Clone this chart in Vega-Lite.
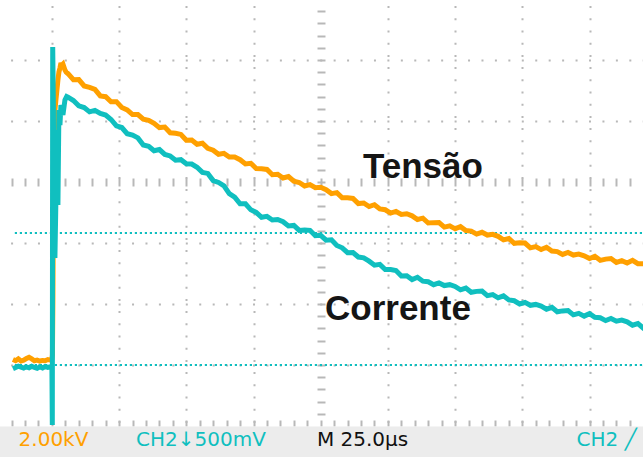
{
  "$schema": "https://vega.github.io/schema/vega-lite/v6.json",
  "width": 643,
  "height": 457,
  "autosize": "none",
  "padding": 0,
  "background": "white",
  "config": {"view": {"stroke": null}},
  "datasets": {
    "tracos": [
      {"canal":"CH1","t":-14.5,"v":-2.91},{"canal":"CH1","t":-13.5,"v":-2.93},{"canal":"CH1","t":-12.5,"v":-2.9},{"canal":"CH1","t":-11.5,"v":-2.935},{"canal":"CH1","t":-10.5,"v":-2.92},{"canal":"CH1","t":-9.5,"v":-2.895},{"canal":"CH1","t":-8.5,"v":-2.875},{"canal":"CH1","t":-7.5,"v":-2.9},{"canal":"CH1","t":-6.5,"v":-2.93},{"canal":"CH1","t":-5.5,"v":-2.92},{"canal":"CH1","t":-4.5,"v":-2.935},{"canal":"CH1","t":-3.5,"v":-2.925},{"canal":"CH1","t":-2.5,"v":-2.93},{"canal":"CH1","t":-1.5,"v":-2.91},{"canal":"CH1","t":-0.5,"v":-2.92},
      {"canal":"CH1","t":0.0,"v":-2.9},{"canal":"CH1","t":0.19,"v":-2.836},{"canal":"CH1","t":0.37,"v":-1.934},{"canal":"CH1","t":0.56,"v":-0.295},{"canal":"CH1","t":0.75,"v":0.525},{"canal":"CH1","t":1.12,"v":1.18},{"canal":"CH1","t":1.49,"v":1.344},{"canal":"CH1","t":1.87,"v":1.508},{"canal":"CH1","t":2.24,"v":1.672},{"canal":"CH1","t":2.61,"v":1.803},{"canal":"CH1","t":2.99,"v":1.869},{"canal":"CH1","t":3.36,"v":1.95},{"canal":"CH1","t":3.73,"v":1.918},{"canal":"CH1","t":4.1,"v":1.934},{"canal":"CH1","t":4.85,"v":1.836},{"canal":"CH1","t":5.3,"v":1.8},
      {"canal":"CH1","t":6,"v":1.776},{"canal":"CH1","t":8,"v":1.678},{"canal":"CH1","t":10,"v":1.679},{"canal":"CH1","t":12,"v":1.575},{"canal":"CH1","t":14,"v":1.551},{"canal":"CH1","t":16,"v":1.519},{"canal":"CH1","t":18,"v":1.411},{"canal":"CH1","t":20,"v":1.398},{"canal":"CH1","t":22,"v":1.315},{"canal":"CH1","t":24,"v":1.317},{"canal":"CH1","t":26,"v":1.221},{"canal":"CH1","t":28,"v":1.183},{"canal":"CH1","t":30,"v":1.105},{"canal":"CH1","t":32,"v":1.106},{"canal":"CH1","t":34,"v":1.03},{"canal":"CH1","t":36,"v":1.012},{"canal":"CH1","t":38,"v":0.962},{"canal":"CH1","t":40,"v":0.892},{"canal":"CH1","t":42,"v":0.9},{"canal":"CH1","t":44,"v":0.807},{"canal":"CH1","t":46,"v":0.798},{"canal":"CH1","t":48,"v":0.78},{"canal":"CH1","t":50,"v":0.686},{"canal":"CH1","t":52,"v":0.687},{"canal":"CH1","t":54,"v":0.618},{"canal":"CH1","t":56,"v":0.635},{"canal":"CH1","t":58,"v":0.551},{"canal":"CH1","t":60,"v":0.522},{"canal":"CH1","t":62,"v":0.454},{"canal":"CH1","t":64,"v":0.47},{"canal":"CH1","t":66,"v":0.41},{"canal":"CH1","t":68,"v":0.411},{"canal":"CH1","t":70,"v":0.366},{"canal":"CH1","t":72,"v":0.296},{"canal":"CH1","t":74,"v":0.307},{"canal":"CH1","t":76,"v":0.22},{"canal":"CH1","t":78,"v":0.218},{"canal":"CH1","t":80,"v":0.206},{"canal":"CH1","t":82,"v":0.119},{"canal":"CH1","t":84,"v":0.127},{"canal":"CH1","t":86,"v":0.065},{"canal":"CH1","t":88,"v":0.089},{"canal":"CH1","t":90,"v":0.013},{"canal":"CH1","t":92,"v":-0.008},{"canal":"CH1","t":94,"v":-0.065},{"canal":"CH1","t":96,"v":-0.042},{"canal":"CH1","t":98,"v":-0.093},{"canal":"CH1","t":100,"v":-0.085},{"canal":"CH1","t":102,"v":-0.125},{"canal":"CH1","t":104,"v":-0.19},{"canal":"CH1","t":106,"v":-0.174},{"canal":"CH1","t":108,"v":-0.259},{"canal":"CH1","t":110,"v":-0.259},{"canal":"CH1","t":112,"v":-0.269},{"canal":"CH1","t":114,"v":-0.354},{"canal":"CH1","t":116,"v":-0.344},{"canal":"CH1","t":118,"v":-0.403},{"canal":"CH1","t":120,"v":-0.372},{"canal":"CH1","t":122,"v":-0.441},{"canal":"CH1","t":124,"v":-0.455},{"canal":"CH1","t":126,"v":-0.509},{"canal":"CH1","t":128,"v":-0.483},{"canal":"CH1","t":130,"v":-0.532},{"canal":"CH1","t":132,"v":-0.521},{"canal":"CH1","t":134,"v":-0.555},{"canal":"CH1","t":136,"v":-0.614},{"canal":"CH1","t":138,"v":-0.593},{"canal":"CH1","t":140,"v":-0.672},{"canal":"CH1","t":142,"v":-0.666},{"canal":"CH1","t":144,"v":-0.665},{"canal":"CH1","t":146,"v":-0.739},{"canal":"CH1","t":148,"v":-0.718},{"canal":"CH1","t":150,"v":-0.768},{"canal":"CH1","t":152,"v":-0.732},{"canal":"CH1","t":154,"v":-0.796},{"canal":"CH1","t":156,"v":-0.805},{"canal":"CH1","t":158,"v":-0.854},{"canal":"CH1","t":160,"v":-0.824},{"canal":"CH1","t":162,"v":-0.87},{"canal":"CH1","t":164,"v":-0.858},{"canal":"CH1","t":166,"v":-0.891},{"canal":"CH1","t":168,"v":-0.949},{"canal":"CH1","t":170,"v":-0.927},{"canal":"CH1","t":172,"v":-1.005},{"canal":"CH1","t":174,"v":-0.998},{"canal":"CH1","t":176,"v":-1.001},{"canal":"CH1","t":178,"v":-1.079},{"canal":"CH1","t":180,"v":-1.06},{"canal":"CH1","t":182,"v":-1.108},{"canal":"CH1","t":184,"v":-1.07},{"canal":"CH1","t":186,"v":-1.133},{"canal":"CH1","t":188,"v":-1.141},{"canal":"CH1","t":190,"v":-1.188},{"canal":"CH1","t":192,"v":-1.156},{"canal":"CH1","t":194,"v":-1.198},{"canal":"CH1","t":196,"v":-1.181},{"canal":"CH1","t":198,"v":-1.209},{"canal":"CH1","t":200,"v":-1.254},{"canal":"CH1","t":202,"v":-1.219},{"canal":"CH1","t":204,"v":-1.284},{"canal":"CH1","t":206,"v":-1.264},{"canal":"CH1","t":208,"v":-1.254},{"canal":"CH1","t":210,"v":-1.319},{"canal":"CH1","t":212,"v":-1.289},{"canal":"CH1","t":214,"v":-1.329},{"canal":"CH1","t":216,"v":-1.285},{"canal":"CH1","t":218,"v":-1.34},{"canal":"CH1","t":220,"v":-1.34},{"canal":"CH1","t":221,"v":-1.35},
      {"canal":"CH2","t":-14.5,"v":-3.06},{"canal":"CH2","t":-13.5,"v":-3.04},{"canal":"CH2","t":-12.5,"v":-3.02},{"canal":"CH2","t":-11.5,"v":-3.035},{"canal":"CH2","t":-10.5,"v":-3.05},{"canal":"CH2","t":-9.5,"v":-3.03},{"canal":"CH2","t":-8.5,"v":-3.045},{"canal":"CH2","t":-7.5,"v":-3.02},{"canal":"CH2","t":-6.5,"v":-3.04},{"canal":"CH2","t":-5.5,"v":-3.055},{"canal":"CH2","t":-4.5,"v":-3.03},{"canal":"CH2","t":-3.5,"v":-3.05},{"canal":"CH2","t":-2.5,"v":-3.025},{"canal":"CH2","t":-1.5,"v":-3.04},{"canal":"CH2","t":-0.5,"v":-3.03},
      {"canal":"CH2","t":0.0,"v":-3.03},{"canal":"CH2","t":0.15,"v":-3.984},{"canal":"CH2","t":0.3,"v":2.213},{"canal":"CH2","t":0.56,"v":1.18},{"canal":"CH2","t":0.75,"v":-0.951},{"canal":"CH2","t":1.12,"v":-1.246},{"canal":"CH2","t":1.49,"v":-0.295},{"canal":"CH2","t":1.87,"v":0.852},{"canal":"CH2","t":2.24,"v":-0.377},{"canal":"CH2","t":2.61,"v":1.18},{"canal":"CH2","t":2.99,"v":0.934},{"canal":"CH2","t":3.36,"v":1.262},{"canal":"CH2","t":4.1,"v":1.098},{"canal":"CH2","t":4.85,"v":1.344},{"canal":"CH2","t":5.5,"v":1.4},
      {"canal":"CH2","t":6,"v":1.39},{"canal":"CH2","t":8,"v":1.335},{"canal":"CH2","t":10,"v":1.25},{"canal":"CH2","t":12,"v":1.22},{"canal":"CH2","t":14,"v":1.15},{"canal":"CH2","t":16,"v":1.175},{"canal":"CH2","t":18,"v":1.123},{"canal":"CH2","t":20,"v":1.097},{"canal":"CH2","t":22,"v":1.025},{"canal":"CH2","t":24,"v":0.92},{"canal":"CH2","t":26,"v":0.893},{"canal":"CH2","t":28,"v":0.791},{"canal":"CH2","t":30,"v":0.769},{"canal":"CH2","t":32,"v":0.723},{"canal":"CH2","t":34,"v":0.606},{"canal":"CH2","t":36,"v":0.585},{"canal":"CH2","t":38,"v":0.512},{"canal":"CH2","t":40,"v":0.532},{"canal":"CH2","t":42,"v":0.452},{"canal":"CH2","t":44,"v":0.427},{"canal":"CH2","t":46,"v":0.357},{"canal":"CH2","t":48,"v":0.366},{"canal":"CH2","t":50,"v":0.3},{"canal":"CH2","t":52,"v":0.294},{"canal":"CH2","t":54,"v":0.242},{"canal":"CH2","t":56,"v":0.158},{"canal":"CH2","t":58,"v":0.141},{"canal":"CH2","t":60,"v":0.024},{"canal":"CH2","t":62,"v":-0.008},{"canal":"CH2","t":64,"v":-0.062},{"canal":"CH2","t":66,"v":-0.191},{"canal":"CH2","t":68,"v":-0.249},{"canal":"CH2","t":70,"v":-0.357},{"canal":"CH2","t":72,"v":-0.358},{"canal":"CH2","t":74,"v":-0.456},{"canal":"CH2","t":76,"v":-0.499},{"canal":"CH2","t":78,"v":-0.578},{"canal":"CH2","t":80,"v":-0.563},{"canal":"CH2","t":82,"v":-0.623},{"canal":"CH2","t":84,"v":-0.615},{"canal":"CH2","t":86,"v":-0.652},{"canal":"CH2","t":88,"v":-0.72},{"canal":"CH2","t":90,"v":-0.712},{"canal":"CH2","t":92,"v":-0.794},{"canal":"CH2","t":94,"v":-0.786},{"canal":"CH2","t":96,"v":-0.792},{"canal":"CH2","t":98,"v":-0.881},{"canal":"CH2","t":100,"v":-0.875},{"canal":"CH2","t":102,"v":-0.954},{"canal":"CH2","t":104,"v":-0.947},{"canal":"CH2","t":106,"v":-1.041},{"canal":"CH2","t":108,"v":-1.079},{"canal":"CH2","t":110,"v":-1.158},{"canal":"CH2","t":112,"v":-1.156},{"canal":"CH2","t":114,"v":-1.23},{"canal":"CH2","t":116,"v":-1.244},{"canal":"CH2","t":118,"v":-1.298},{"canal":"CH2","t":120,"v":-1.364},{"canal":"CH2","t":122,"v":-1.35},{"canal":"CH2","t":124,"v":-1.435},{"canal":"CH2","t":126,"v":-1.436},{"canal":"CH2","t":128,"v":-1.451},{"canal":"CH2","t":130,"v":-1.541},{"canal":"CH2","t":132,"v":-1.536},{"canal":"CH2","t":134,"v":-1.599},{"canal":"CH2","t":136,"v":-1.562},{"canal":"CH2","t":138,"v":-1.626},{"canal":"CH2","t":140,"v":-1.635},{"canal":"CH2","t":142,"v":-1.684},{"canal":"CH2","t":144,"v":-1.654},{"canal":"CH2","t":146,"v":-1.698},{"canal":"CH2","t":148,"v":-1.683},{"canal":"CH2","t":150,"v":-1.712},{"canal":"CH2","t":152,"v":-1.767},{"canal":"CH2","t":154,"v":-1.738},{"canal":"CH2","t":156,"v":-1.808},{"canal":"CH2","t":158,"v":-1.793},{"canal":"CH2","t":160,"v":-1.789},{"canal":"CH2","t":162,"v":-1.863},{"canal":"CH2","t":164,"v":-1.846},{"canal":"CH2","t":166,"v":-1.899},{"canal":"CH2","t":168,"v":-1.866},{"canal":"CH2","t":170,"v":-1.934},{"canal":"CH2","t":172,"v":-1.947},{"canal":"CH2","t":174,"v":-2.0},{"canal":"CH2","t":176,"v":-1.973},{"canal":"CH2","t":178,"v":-2.021},{"canal":"CH2","t":180,"v":-2.007},{"canal":"CH2","t":182,"v":-2.034},{"canal":"CH2","t":184,"v":-2.085},{"canal":"CH2","t":186,"v":-2.056},{"canal":"CH2","t":188,"v":-2.128},{"canal":"CH2","t":190,"v":-2.113},{"canal":"CH2","t":192,"v":-2.108},{"canal":"CH2","t":194,"v":-2.178},{"canal":"CH2","t":196,"v":-2.154},{"canal":"CH2","t":198,"v":-2.199},{"canal":"CH2","t":200,"v":-2.158},{"canal":"CH2","t":202,"v":-2.219},{"canal":"CH2","t":204,"v":-2.226},{"canal":"CH2","t":206,"v":-2.272},{"canal":"CH2","t":208,"v":-2.238},{"canal":"CH2","t":210,"v":-2.281},{"canal":"CH2","t":212,"v":-2.265},{"canal":"CH2","t":214,"v":-2.293},{"canal":"CH2","t":216,"v":-2.347},{"canal":"CH2","t":218,"v":-2.321},{"canal":"CH2","t":220,"v":-2.395},{"canal":"CH2","t":221,"v":-2.38}
    ],
    "cursores": [
      {"cursor":"superior","v":-0.836},
      {"cursor":"inferior","v":-3.0}
    ],
    "rotulos": [
      {"rotulo":"Tensão","t":115.7,"v":0.066},
      {"rotulo":"Corrente","t":101.6,"v":-2.262}
    ],
    "status": [
      {"canal":"CH1","texto":"2.00kV","t":-12.4,"v":-4.33},
      {"canal":"CH2","texto":"CH2↓500mV","t":31.3,"v":-4.33},
      {"canal":"M","texto":"M 25.0µs","t":98.6,"v":-4.33},
      {"canal":"CH2","texto":"CH2  ╱","t":195.2,"v":-4.33}
    ],
    "faixa": [
      {"t0":-20,"t1":221,"v0":-4.01,"v1":-4.6}
    ]
  },
  "resolve": {"axis": {"x": "independent", "y": "independent"}},
  "layer": [
    {
      "data": {"name": "faixa"},
      "mark": {"type": "rect", "color": "#ececec", "clip": true},
      "encoding": {
        "x": {"field": "t0", "type": "quantitative",
              "scale": {"domain": [-19.31, 219.9], "nice": false, "zero": false},
              "axis": {"orient": "top", "offset": -186, "title": null, "labels": false, "domain": false, "grid": false,
                       "ticks": true, "tickSize": 8, "tickWidth": 2, "tickColor": "#b8b8b8", "zindex": 0,
                       "values": [-15,-10,-5,0,5,10,15,20,25,30,35,40,45,50,55,60,65,70,75,80,85,90,95,100,105,110,115,120,125,130,135,140,145,150,155,160,165,170,175,180,185,190,195,200,205,210,215]}},
        "x2": {"field": "t1"},
        "y": {"field": "v0", "type": "quantitative",
              "scale": {"domain": [-4.5082, 2.9836], "nice": false, "zero": false},
              "axis": {"orient": "left", "offset": -325, "title": null, "labels": false, "domain": false, "grid": false,
                       "ticks": true, "tickSize": 8, "tickWidth": 2, "tickColor": "#b8b8b8", "zindex": 0,
                       "values": [-3.8,-3.6,-3.4,-3.2,-3,-2.8,-2.6,-2.4,-2.2,-2,-1.8,-1.6,-1.4,-1.2,-1,-0.8,-0.6,-0.4,-0.2,0,0.2,0.4,0.6,0.8,1,1.2,1.4,1.6,1.8,2,2.2,2.4,2.6,2.8]}},
        "y2": {"field": "v1"}
      }
    },
    {
      "data": {"name": "cursores"},
      "mark": {"type": "rule", "color": "#10bfbf", "strokeWidth": 2, "strokeDash": [2.2, 2.8], "clip": true},
      "encoding": {
        "x": {"datum": -13.8, "type": "quantitative", "axis": null},
        "x2": {"datum": 221},
        "y": {"field": "v", "type": "quantitative", "axis": null}
      }
    },
    {
      "data": {"name": "tracos"},
      "mark": {"type": "line", "strokeWidth": 5, "clip": true, "strokeJoin": "miter", "strokeMiterLimit": 2},
      "encoding": {
        "x": {"field": "t", "type": "quantitative",
              "axis": {"orient": "bottom", "title": null, "labels": false, "ticks": false, "domain": false, "grid": true,
                       "gridColor": "#b8b8b8", "gridWidth": 2, "gridDash": [2, 10.2], "gridDashOffset": 6.6, "zindex": 0,
                       "values": [0, 25, 50, 75, 125, 150, 175, 200]}},
        "y": {"field": "v", "type": "quantitative",
              "axis": {"orient": "left", "title": null, "labels": false, "ticks": false, "domain": false, "grid": true,
                       "gridColor": "#b8b8b8", "gridWidth": 2, "gridDash": [2, 11.44], "gridDashOffset": 2.86, "zindex": 0,
                       "values": [-3, -2, -1, 1, 2]}},
        "color": {"field": "canal", "type": "nominal",
                  "scale": {"domain": ["CH1", "CH2", "M"], "range": ["#ffa000", "#10bfbf", "#111111"]},
                  "legend": null}
      }
    },
    {
      "data": {"name": "rotulos"},
      "mark": {"type": "text", "font": "Liberation Sans", "fontWeight": "bold", "fontSize": 35, "color": "#151515", "align": "left", "baseline": "alphabetic"},
      "encoding": {
        "x": {"field": "t", "type": "quantitative", "axis": null},
        "y": {"field": "v", "type": "quantitative", "axis": null},
        "text": {"field": "rotulo"}
      }
    },
    {
      "data": {"name": "status"},
      "mark": {"type": "text", "font": "DejaVu Sans", "fontSize": 20, "align": "left", "baseline": "alphabetic"},
      "encoding": {
        "x": {"field": "t", "type": "quantitative",
              "axis": {"orient": "bottom", "offset": -37, "title": null, "labels": false, "domain": false, "grid": false,
                       "ticks": true, "tickSize": 6, "tickWidth": 2, "tickColor": "#b8b8b8", "zindex": 0,
                       "values": [-15,-10,-5,0,5,10,15,20,25,30,35,40,45,50,55,60,65,70,75,80,85,90,95,100,105,110,115,120,125,130,135,140,145,150,155,160,165,170,175,180,185,190,195,200,205,210,215]}},
        "y": {"field": "v", "type": "quantitative", "axis": null},
        "text": {"field": "texto"},
        "color": {"field": "canal", "type": "nominal", "legend": null}
      }
    }
  ]
}
